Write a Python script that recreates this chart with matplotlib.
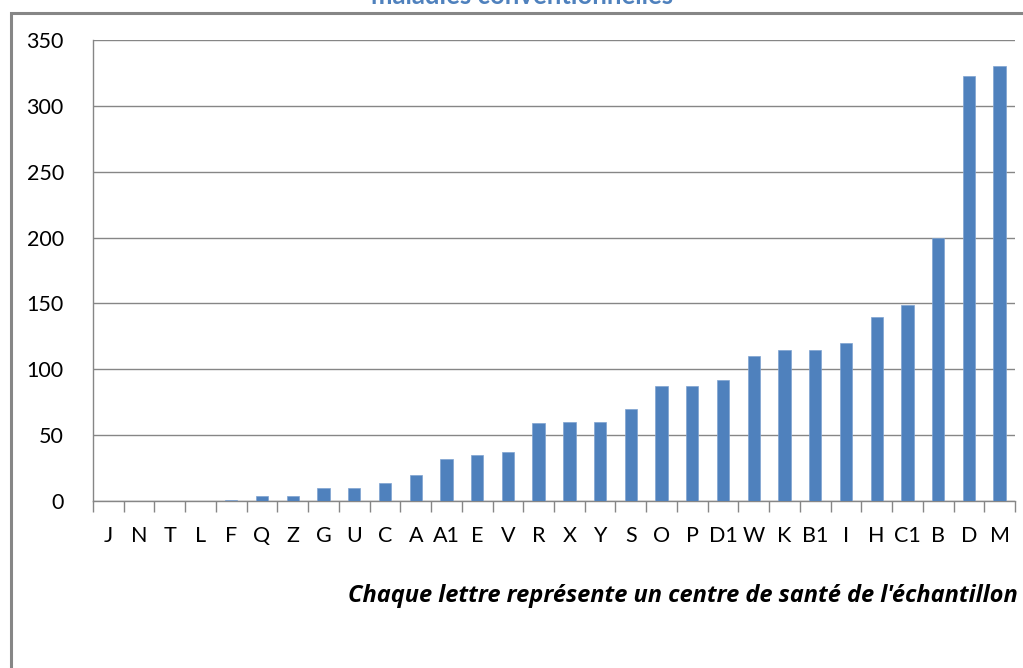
import matplotlib
matplotlib.use('Agg')
import matplotlib.pyplot as plt
import numpy as np

# Health centres and counts
centres = ['J', 'N', 'T', 'L', 'F', 'Q', 'Z', 'G', 'U', 'C', 'A', 'A1', 'E', 'V', 'R',
           'X', 'Y', 'S', 'O', 'P', 'D1', 'W', 'K', 'B1', 'I', 'H', 'C1', 'B', 'D', 'M']
counts = [0, 0, 0, 0, 1, 4, 4, 10, 10, 14, 20, 32, 35, 37, 59,
          60, 60, 70, 87, 87, 92, 110, 115, 115, 120, 140, 149, 200, 323, 330]
yticks = [0, 50, 100, 150, 200, 250, 300, 350]

title = 'maladies conventionnelles'
xlabel = "Chaque lettre représente un centre de santé de l'échantillon"

plt.rcParams['font.family'] = ['Lato', 'DejaVu Sans']
grey = '#868686'

fig = plt.figure(figsize=(10.23, 6.68), dpi=100, facecolor='white')
ax = fig.add_axes([93 / 1023, 1 - 501 / 668, (1015 - 93) / 1023, 461 / 668])

x = np.arange(len(centres))
ax.bar(x, counts, width=0.4, color='#4F81BD', edgecolor='#7FA3D1', linewidth=0.5, zorder=3)

ax.set_xlim(-0.5, len(centres) - 0.5)
ax.set_ylim(0, 350)
ax.set_yticks(yticks)
ax.set_yticklabels([str(v) for v in yticks], fontsize=15.5)
ax.set_xticks(x)
ax.set_xticklabels(centres, fontsize=15.5)
ax.set_xticks(np.arange(-0.5, len(centres)), minor=True)
ax.tick_params(axis='x', which='major', length=0, pad=18)
ax.tick_params(axis='x', which='minor', length=8, color=grey, width=1)
ax.tick_params(axis='y', length=0, pad=21)
ax.yaxis.grid(True, color=grey, linewidth=1)
ax.set_axisbelow(True)

for side in ['top', 'right']:
    ax.spines[side].set_visible(False)
for side in ['left', 'bottom']:
    ax.spines[side].set_color(grey)
    ax.spines[side].set_linewidth(1)

# Cut-off chart title at the very top
fig.text(522 / 1023, 1.006, title, ha='center', va='center', fontsize=18.5,
         fontweight='bold', color='#4F81BD')

# Axis caption
fig.text(1018 / 1023, 1 - 596 / 668, xlabel, ha='right', va='center', fontsize=17,
         fontweight='bold', fontstyle='italic', color='black', family=['Open Sans', 'DejaVu Sans'])

# Chart frame (partly outside the image)
frame = plt.Rectangle((11 / 1023, -0.1), 1.1, 1 - 13 / 668 + 0.1, transform=fig.transFigure,
                      fill=False, edgecolor=grey, linewidth=2.2)
fig.patches.append(frame)

plt.savefig('out.png', dpi=100, facecolor='white')
